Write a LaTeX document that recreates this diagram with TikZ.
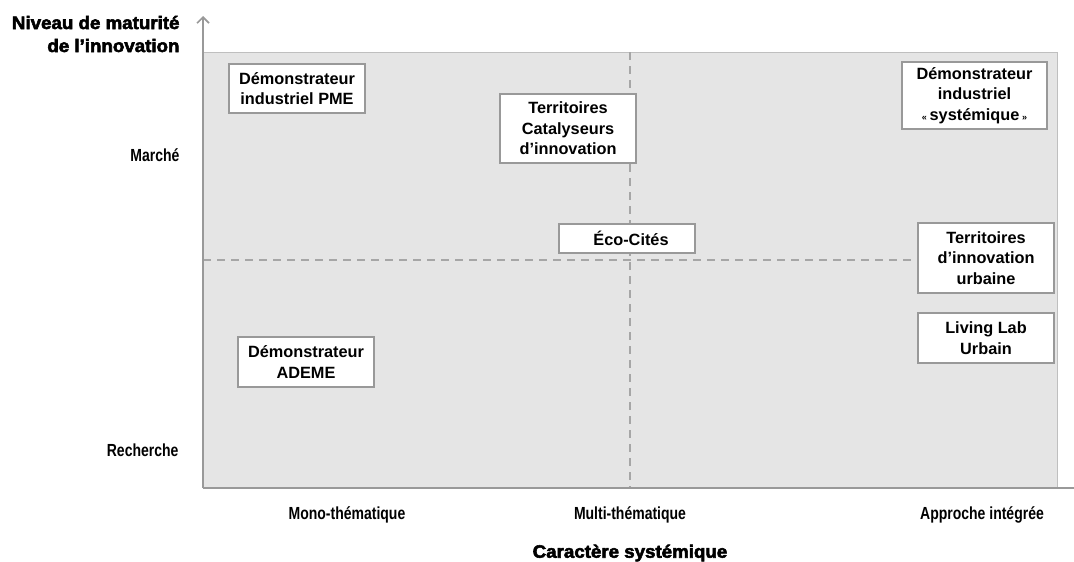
\documentclass[tikz,border=0pt]{standalone}
\usepackage{fontspec}
\setmainfont{Liberation Sans}
\newfontfamily\narrowfont[FakeStretch=0.8]{Liberation Sans}
\newfontfamily\heavyfont[FakeBold=3,FakeStretch=1.04]{Liberation Sans}
\usetikzlibrary{arrows.meta, positioning}

\begin{document}
\begin{tikzpicture}[x=1pt,y=-1pt,
	axis/.style={draw=black!40, line width=1.6pt},
	guide/.style={draw=black!35, line width=1.5pt, dash pattern=on 8pt off 6pt},
	box/.style={draw=black!40, line width=1.2pt, fill=white, align=center, inner sep=2pt,
		font=\fontsize{16.3}{20.5}\selectfont\bfseries},
	level/.style={font=\fontsize{17.5}{20}\selectfont\narrowfont\bfseries},
	title/.style={font=\fontsize{18}{23}\selectfont\heavyfont\bfseries}]
	\useasboundingbox (0,0) rectangle (1074,562);

	%% Zone
	\begin{scope}
		\coordinate (origin) at (203,488);
		\coordinate (corner) at (1057,52);
		\fill[black!10] (origin) rectangle (corner);
		\draw[black!25, line width=1pt] (203,52) -- (corner) -- (1057,488);
	\end{scope}

	% Guides
	\begin{scope}
		\coordinate (mid_top) at (630,52);
		\coordinate (mid_bottom) at (630,488);
		\coordinate (half_left) at (203,260);
		\coordinate (half_right) at (918,260);
		\draw[guide] (mid_top) -- (mid_bottom);
		\draw[guide] (half_left) -- (half_right);
	\end{scope}

	% Axes
	\begin{scope}
		\coordinate (y_end) at (203,16);
		\coordinate (x_end) at (1074,488);
		\draw[axis, -{Straight Barb[length=6pt,width=12pt]}] (origin) -- (y_end);
		\draw[axis] (origin) -- (x_end);
	\end{scope}

	% Boxes
	\begin{scope}
		\node (pme) at (297,88.5) [box, minimum width=136pt, minimum height=49pt] {Démonstrateur\\industriel PME};
		\node (catalyseurs) at (568,128.5) [box, minimum width=136pt, minimum height=69pt] {Territoires\\Catalyseurs\\d’innovation};
		\node (ecocites) at (627,238.5) [box, minimum width=136pt, minimum height=29pt] {\hspace*{8pt}Éco-Cités};
		\node (systemique) at (974.5,95.5) [box, minimum width=145pt, minimum height=67pt] {Démonstrateur\\industriel\\{\small«}\,systémique\,{\small»}};
		\node (urbaine) at (986,258) [box, minimum width=136pt, minimum height=70pt] {Territoires\\d’innovation\\urbaine};
		\node (livinglab) at (986,338) [box, minimum width=136pt, minimum height=50pt] {Living Lab\\Urbain};
		\node (ademe) at (306,362) [box, minimum width=136pt, minimum height=50pt] {Démonstrateur\\ADEME};
	\end{scope}

	% Labels
	\begin{scope}
		\node (y_title) at (183,34) [title, anchor=east, align=right] {Niveau de maturité\\de l’innovation};
		\node (marche) at (183,155) [level, anchor=east] {Marché};
		\node (recherche) at (182,450) [level, anchor=east] {Recherche};
		\node (mono) at (347,515) [level] {Mono-thématique};
		\node (multi) at (630,515) [level] {Multi-thématique};
		\node (integree) at (982,515) [level] {Approche intégrée};
		\node (x_title) at (630,553) [title] {Caractère systémique};
	\end{scope}
\end{tikzpicture}
\end{document}
